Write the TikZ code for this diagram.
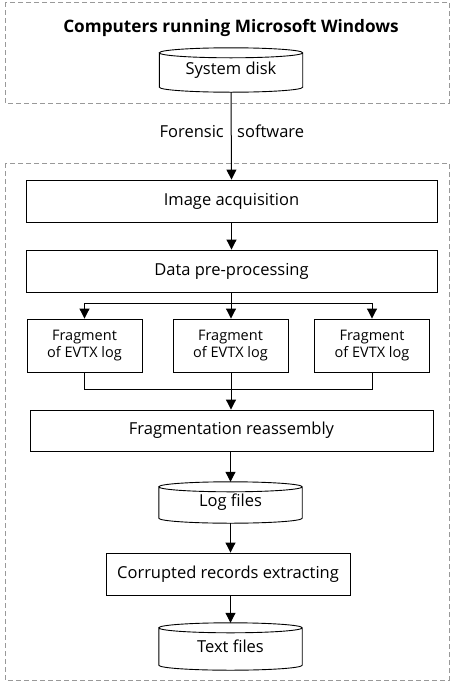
\documentclass[tikz,border=0pt]{standalone}
\usepackage{fontspec}
\setmainfont{Open Sans}
\usetikzlibrary{arrows.meta,calc}

\tikzset{
  frame/.style={draw=black!40, dash pattern=on 5pt off 3pt, line width=0.6pt},
  procbox/.style={draw, line width=0.9pt, minimum height=42pt, font=\fontsize{16.5}{19}\selectfont},
  fragbox/.style={draw, line width=0.9pt, minimum width=115pt, minimum height=53pt, align=center, font=\fontsize{14.5}{17}\selectfont},
  drumbox/.style={minimum width=143pt, font=\fontsize{16.5}{19}\selectfont},
  flow/.style={line width=1pt, -{Triangle[length=10pt,width=10pt]}},
  link/.style={line width=1pt},
  edgetext/.style={font=\fontsize{16.5}{19}\selectfont, inner sep=0pt},
}

% Cylinder outline around a named node
\newcommand\drumoutline[1]{%
  \draw[line width=0.9pt] let \p1=(#1.north west), \p2=(#1.south east), \n1={0.5*(\x2-\x1)} in
    ($(#1.north west)+(0,-5pt)$) -- ($(#1.south west)+(0,5pt)$)
    arc[start angle=180, end angle=360, x radius=\n1, y radius=5pt]
    -- ($(#1.north east)+(0,-5pt)$)
    arc[start angle=0, end angle=360, x radius=\n1, y radius=5pt];
}

\begin{document}
\begin{tikzpicture}[x=1pt, y=-1pt]
  \useasboundingbox (0,0) rectangle (451,683);

  % dashed enclosures
  \draw[frame] (5,2) rectangle (449,103);
  \draw[frame] (5,163) rectangle (449,680);

  \node[font=\bfseries\fontsize{17.2}{20}\selectfont] (title) at (231,28) {Computers running Microsoft Windows};

  \node[drumbox, minimum height=44pt] (disk) at (231,70) {\raisebox{-3pt}{System disk}};
  \drumoutline{disk}

  \node[procbox, minimum width=411pt] (acq) at (231.5,201) {Image acquisition};
  \node[procbox, minimum width=411pt] (pre) at (231.5,271) {Data pre-processing};

  \node[fragbox] (f1) at (84.5,345.5) {Fragment\\of EVTX log};
  \node[fragbox] (f2) at (230.5,345.5) {Fragment\\of EVTX log};
  \node[fragbox] (f3) at (372,345.5) {Fragment\\of EVTX log};

  \node[procbox, minimum width=403pt, minimum height=41pt] (reasm) at (231.5,430.5) {Fragmentation reassembly};

  \node[drumbox, minimum height=41pt] (logs) at (230.5,502.5) {\raisebox{-3pt}{Log files}};
  \drumoutline{logs}

  \node[procbox, minimum width=244pt] (corr) at (228,574) {Corrupted records extracting};

  \node[drumbox, minimum height=47pt] (txt) at (230.5,646.5) {\raisebox{-3pt}{Text files}};
  \drumoutline{txt}

  % connectors
  \draw[flow] (disk.south) -- (acq.north);
  \node[edgetext, anchor=base east] (swl) at (224,137) {Forensic};
  \node[edgetext, anchor=base west] (swr) at (237,137) {software};

  \draw[flow] (acq.south) -- (pre.north);

  \coordinate (split) at (231,303);
  \draw[link] (pre.south -| split) -- (split);
  \draw[flow] (split -| f1.north) -- (f1.north);
  \draw[flow] (split) -- (split |- f2.north);
  \draw[flow] (split -| f3.north) -- (f3.north);
  \draw[link] (split -| f1.north) -- (split -| f3.north);

  \coordinate (merge) at (231,389);
  \draw[link] (f1.south) -- (f1.south |- merge) -- (f3.south |- merge) -- (f3.south);
  \draw[link] (f2.south -| merge) -- (merge);
  \draw[flow] (merge) -- (merge |- reasm.north);

  \draw[flow] (reasm.south -| logs) -- (logs.north);
  \draw[flow] (logs.south) -- (logs.south |- corr.north);
  \draw[flow] (logs.south |- corr.south) -- (txt.north);
\end{tikzpicture}
\end{document}
